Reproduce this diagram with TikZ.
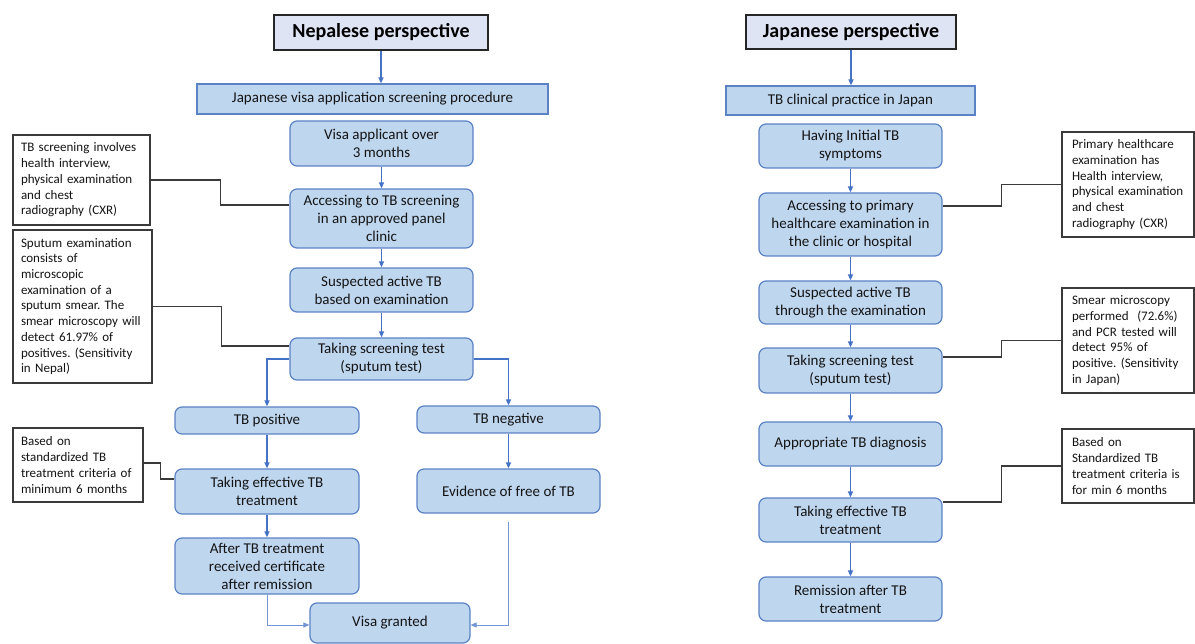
\documentclass[tikz,border=0pt]{standalone}
\usepackage{fontspec}
\setmainfont{Carlito}
\usetikzlibrary{arrows.meta}
\frenchspacing
\definecolor{boxfill}{HTML}{BFD6EF}
\definecolor{boxdraw}{HTML}{5A82C4}
\definecolor{arr}{HTML}{4472C4}
\definecolor{titlefill}{HTML}{DFE4F5}
\definecolor{notedraw}{HTML}{3A3A3A}
\definecolor{txt}{HTML}{141414}
\tikzset{
  stepbox/.style={draw=boxdraw, fill=boxfill, rounded corners=7pt, line width=1.2pt,
    align=center, inner sep=2pt, text=txt, font=\fontsize{15}{18}\selectfont},
  flatbox/.style={draw=boxdraw, fill=boxfill, line width=1.2pt,
    align=center, inner sep=2pt, text=txt, font=\fontsize{15}{18}\selectfont},
  titlebox/.style={draw=black!85, fill=titlefill, line width=1.5pt,
    align=center, inner sep=2pt, text=black, font=\fontsize{20}{23}\selectfont\bfseries},
  notebox/.style={draw=notedraw, fill=white, line width=1.3pt, align=left,
    inner xsep=8pt, inner ysep=0pt, text=txt, font=\fontsize{13}{15.7}\selectfont},
  flowarrow/.style={draw=arr, line width=1.4pt, -{Triangle[length=6pt,width=5pt]}},
  thinflow/.style={draw=arr!75, line width=0.9pt, -{Triangle[length=6pt,width=5pt]}},
  noteline/.style={draw=notedraw, line width=1.2pt}
}
\begin{document}
\begin{tikzpicture}[x=1pt,y=-1pt]
\useasboundingbox (0,0) rectangle (1195,644);
% ---------------- Left column ----------------
\node[titlebox, minimum width=214pt, minimum height=35pt] (ntitle) at (381,32.5) {Nepalese perspective};
\node[flatbox, minimum width=351pt, minimum height=30pt] (nproc) at (372.5,99) {Japanese visa application screening procedure};
\node[stepbox, minimum width=183pt, minimum height=45pt] (n1) at (381.5,143.5) {Visa applicant over\\3 months};
\node[stepbox, minimum width=183pt, minimum height=59pt] (n2) at (381.5,218.5) {Accessing to TB screening\\in an approved panel\\clinic};
\node[stepbox, minimum width=183pt, minimum height=44pt] (n3) at (381.5,290) {Suspected active TB\\based on examination};
\node[stepbox, minimum width=183pt, minimum height=42pt] (n4) at (381.5,359) {Taking screening test\\(sputum test)};
\node[stepbox, minimum width=184pt, minimum height=27pt] (npos) at (267,420.5) {TB positive};
\node[stepbox, minimum width=183pt, minimum height=27pt] (nneg) at (508.5,419.5) {TB negative};
\node[stepbox, minimum width=184pt, minimum height=45pt] (ntreat) at (267,491.5) {Taking effective TB\\treatment};
\node[stepbox, minimum width=184pt, minimum height=56pt] (ncert) at (267,566) {After TB treatment\\received certificate\\after remission};
\node[stepbox, minimum width=183pt, minimum height=44pt] (nfree) at (508.5,491) {Evidence of free of TB};
\node[stepbox, minimum width=160pt, minimum height=40pt] (nvisa) at (390,623) {Visa granted};

\node[notebox, text width=121pt, minimum height=90pt] (note1) at (81.5,180) {TB screening involves\\health interview,\\physical examination\\and chest\\radiography (CXR)};
\node[notebox, text width=123pt, minimum height=153pt] (note2) at (82.5,306.5) {Sputum examination\\consists of\\microscopic\\examination of a\\sputum smear. The\\smear microscopy will\\detect 61.97\% of\\positives. (Sensitivity\\in Nepal)};
\node[notebox, text width=114pt, minimum height=74pt] (note3) at (78,465) {Based on\\standardized TB\\treatment criteria of\\minimum 6 months};

\draw[flowarrow] (ntitle.south) -- (ntitle.south |- nproc.north);
\draw[flowarrow] (n1) -- (n2);
\draw[flowarrow] (n2) -- (n3);
\draw[flowarrow] (n3) -- (n4);
\draw[flowarrow] (n4.west) -| (npos.north);
\draw[flowarrow] (n4.east) -| (nneg.north);
\draw[flowarrow] (npos) -- (ntreat);
\draw[flowarrow] (ntreat) -- (ncert);
\draw[flowarrow] (nneg) -- (nfree);
\draw[thinflow] ([yshift=-8pt]nfree.south) |- ([yshift=-2pt]nvisa.east);
\draw[thinflow] (ncert.south) |- ([yshift=-2pt]nvisa.west);

\draw[noteline] (note1.east) -- ++(70,0) |- ([yshift=13.5pt]n2.west);
\draw[noteline] (note2.east) -- ++(69,0) |- ([yshift=13pt]n4.west);
\draw[noteline] ([yshift=2pt]note3.east) -- ++(17,0) |- ([yshift=12.5pt]ntreat.west);

% ---------------- Right column ----------------
\node[titlebox, minimum width=210pt, minimum height=34pt] (jtitle) at (851,32) {Japanese perspective};
\node[flatbox, minimum width=249pt, minimum height=29pt] (jproc) at (850.5,100.5) {TB clinical practice in Japan};
\node[stepbox, minimum width=183pt, minimum height=44pt] (j1) at (850.5,146) {Having Initial TB\\symptoms};
\node[stepbox, minimum width=183pt, minimum height=63pt] (j2) at (850.5,224.5) {Accessing to primary\\healthcare examination in\\the clinic or hospital};
\node[stepbox, minimum width=183pt, minimum height=43pt] (j3) at (850.5,302.5) {Suspected active TB\\through the examination};
\node[stepbox, minimum width=183pt, minimum height=45pt] (j4) at (850.5,370.5) {Taking screening test\\(sputum test)};
\node[stepbox, minimum width=183pt, minimum height=44pt] (j5) at (850.5,444) {Appropriate TB diagnosis};
\node[stepbox, minimum width=183pt, minimum height=44pt] (j6) at (850.5,520) {Taking effective TB\\treatment};
\node[stepbox, minimum width=183pt, minimum height=44pt] (j7) at (850.5,599) {Remission after TB\\treatment};

\node[notebox, inner xsep=10pt, text width=112pt, minimum height=105pt] (rn1) at (1128,184.5) {Primary healthcare\\examination has\\Health interview,\\physical examination\\and chest\\radiography (CXR)};
\node[notebox, inner xsep=10pt, text width=112pt, minimum height=105pt] (rn2) at (1128,340.5) {Smear microscopy\\performed~~(72.6\%)\\and PCR tested will\\detect 95\% of\\positive. (Sensitivity\\in Japan)};
\node[notebox, inner xsep=10pt, text width=112pt, minimum height=74pt] (rn3) at (1128,466) {Based on\\Standardized TB\\treatment criteria is\\for min 6 months};

\draw[flowarrow] (jtitle.south) -- (jtitle.south |- jproc.north);
\draw[flowarrow] (j1) -- (j2);
\draw[flowarrow] (j2) -- (j3);
\draw[flowarrow] (j3) -- (j4);
\draw[flowarrow] (j4) -- (j5);
\draw[flowarrow] (j5) -- (j6);
\draw[flowarrow] (j6) -- (j7);

\draw[noteline] (rn1.west) -- ++(-60,0) |- ([yshift=18.5pt]j2.east);
\draw[noteline] (rn2.west) -- ++(-60,0) |- ([yshift=13.5pt]j4.east);
\draw[noteline] (rn3.west) -- ++(-60,0) |- ([yshift=18pt]j6.east);
\end{tikzpicture}
\end{document}
